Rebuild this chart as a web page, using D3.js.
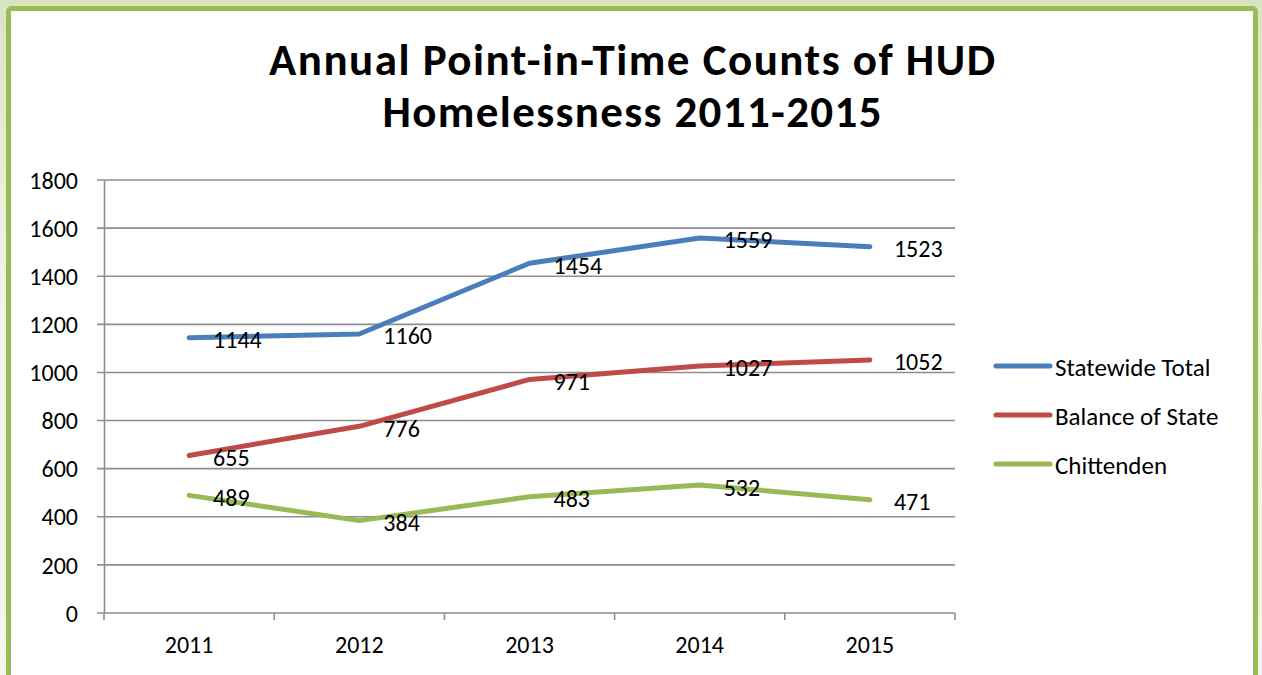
<!DOCTYPE html>
<html lang="en">
<head>
<meta charset="UTF-8">
<script src="https://d3js.org/d3.v7.min.js"></script>
<title>Annual Point-in-Time Counts</title>
<style>
  body { margin: 0; background: linear-gradient(#d9e5c1, #eef3e4 40%, #f3f6ec); }
  svg { display: block; }
</style>
</head>
<body>
<div id="chart"></div>
<script>
const years = ["2011", "2012", "2013", "2014", "2015"];
const statewide = [1144, 1160, 1454, 1559, 1523];
const balance = [655, 776, 971, 1027, 1052];
const chittenden = [489, 384, 483, 532, 471];
const seriesNames = ["Statewide Total", "Balance of State", "Chittenden"];
const seriesColors = ["#4a7ebb", "#be4b48", "#98b954"];
const yTicks = [0, 200, 400, 600, 800, 1000, 1200, 1400, 1600, 1800];
const titleLines = ["Annual Point-in-Time Counts of HUD", "Homelessness 2011-2015"];

const width = 1262, height = 675;
const font = "Carlito, Calibri, Lato, sans-serif";
const margin = {top: 180, left: 104, right: 307, bottom: 62};
const gridColor = "#8e8e8e";

const svg = d3.select("#chart").append("svg")
  .attr("width", width)
  .attr("height", height)
  .style("font-family", font);

// frame
svg.append("rect")
  .attr("x", 8.5).attr("y", 8.5)
  .attr("width", 1247).attr("height", 680)
  .attr("rx", 3)
  .attr("fill", "#fff")
  .attr("stroke", "#9bbb59")
  .attr("stroke-width", 5);

// title, two lines
const titleLen = [726, 499];
svg.append("g")
  .selectAll("text")
  .data(titleLines)
  .join("text")
  .attr("x", 632)
  .attr("y", (d, i) => 75 + i * 52)
  .attr("text-anchor", "middle")
  .attr("font-weight", "bold")
  .attr("font-size", 45)
  .attr("textLength", (d, i) => titleLen[i])
  .attr("lengthAdjust", "spacing")
  .text(d => d);

const x = d3.scaleBand(years, [margin.left, width - margin.right]);
const y = d3.scaleLinear([0, 1800], [height - margin.bottom, margin.top]);

// gridlines
svg.append("g")
  .selectAll("line")
  .data(yTicks)
  .join("line")
  .attr("x1", margin.left - 7)
  .attr("x2", width - margin.right)
  .attr("y1", d => y(d))
  .attr("y2", d => y(d))
  .attr("stroke", gridColor)
  .attr("stroke-width", 1.6);

svg.append("g")
  .attr("transform", `translate(${margin.left},0)`)
  .call(d3.axisLeft(y).tickValues(yTicks).tickFormat(d3.format("d")).tickSize(0).tickPadding(26))
  .call(g => g.select(".domain").attr("stroke", gridColor).attr("stroke-width", 1.6))
  .call(g => g.selectAll(".tick text")
    .attr("font-family", font).attr("font-size", 24).attr("fill", "#000")
    .attr("dy", "0.34em"));

svg.append("g")
  .attr("transform", `translate(0,${y(0)})`)
  .call(d3.axisBottom(x).tickSize(0).tickPadding(26))
  .call(g => g.select(".domain").remove())
  .call(g => g.selectAll(".tick text")
    .attr("font-family", font).attr("font-size", 24).attr("fill", "#000")
    .attr("dy", "0.6em"));

// category ticks at band edges
svg.append("g")
  .selectAll("line")
  .data(d3.range(years.length + 1))
  .join("line")
  .attr("x1", i => margin.left + i * x.step())
  .attr("x2", i => margin.left + i * x.step())
  .attr("y1", y(0))
  .attr("y2", y(0) + 7)
  .attr("stroke", gridColor)
  .attr("stroke-width", 1.6);

const allSeries = [statewide, balance, chittenden];
const line = d3.line()
  .x((d, i) => x(years[i]) + x.bandwidth() / 2)
  .y(d => y(d));

allSeries.forEach((s, k) => {
  svg.append("path")
    .datum(s)
    .attr("d", line)
    .attr("fill", "none")
    .attr("stroke", seriesColors[k])
    .attr("stroke-width", 5)
    .attr("stroke-linejoin", "round")
    .attr("stroke-linecap", "round");
});

// data labels to the right of each point
allSeries.forEach((s, k) => {
  svg.append("g")
    .selectAll("text")
    .data(s)
    .join("text")
    .attr("x", (d, i) => x(years[i]) + x.bandwidth() / 2 + 24)
    .attr("y", d => y(d) + 10.5)
    .attr("font-size", 24)
    .text(d => d);
});

// legend
const legend = svg.append("g")
  .selectAll("g")
  .data(seriesNames)
  .join("g")
  .attr("transform", (d, i) => `translate(996,${366 + i * 49})`);
legend.append("line")
  .attr("x1", 0).attr("x2", 54)
  .attr("stroke", (d, i) => seriesColors[i])
  .attr("stroke-width", 5)
  .attr("stroke-linecap", "round");
legend.append("text")
  .attr("x", 59).attr("y", 10)
  .attr("font-size", 25)
  .text(d => d);
</script>
</body>
</html>
